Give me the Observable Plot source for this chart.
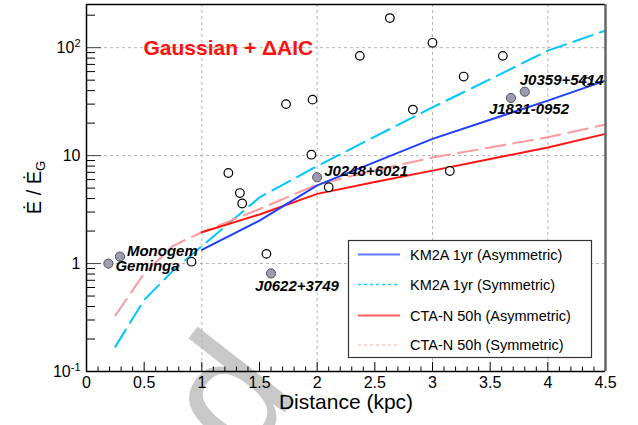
<!DOCTYPE html>
<html><head><meta charset="utf-8">
<script src="https://cdn.jsdelivr.net/npm/d3@7"></script>
<script src="https://cdn.jsdelivr.net/npm/@observablehq/plot@0.6"></script>
<style>
html,body{margin:0;padding:0;background:#fff;}
</style>
</head><body><div id="chart"></div>
<script>
// ---- data ----
const symX  = [0.25, 0.5, 0.75, 1, 1.5, 2, 2.5, 3, 3.5, 4, 4.5];
const asymX = [1, 1.5, 2, 2.5, 3, 3.5, 4, 4.5];
const km2aAsym = [1.34, 2.5, 5.3, 8.7, 14.3, 21.5, 32.3, 49.5];
const km2aSym  = [0.17, 0.46, 0.86, 1.45, 4.1, 8.0, 15, 28, 51, 94, 144];
const ctaAsym  = [1.95, 2.85, 4.42, 5.7, 7.26, 9.3, 11.9, 15.9];
const ctaSym   = [0.33, 0.81, 1.46, 1.95, 3.2, 5.4, 7.3, 9.6, 11.9, 14.8, 19.4];

const openX = [0.91, 1.23, 1.33, 1.35, 1.56, 1.73, 1.95, 1.96, 2.10, 2.37, 2.63, 2.83, 3.00, 3.15, 3.27, 3.61, 4.34];
const openY = [1.04, 6.9, 4.5, 3.6, 1.23, 30, 10.2, 33, 5.1, 84, 188, 26.7, 111, 7.2, 54, 84, 48];

const pulsarNames = ["Geminga", "Monogem", "J0622+3749", "J0248+6021", "J1831-0952", "J0359+5414"];
const pulsarX = [0.19, 0.29, 1.60, 2.00, 3.68, 3.80];
const pulsarY = [1.0, 1.16, 0.81, 6.3, 34.2, 39.1];

const xMajor = [0, 0.5, 1, 1.5, 2, 2.5, 3, 3.5, 4, 4.5];
const yMajor = [0.1, 1, 10, 100];
const yMajorLabels = ["10^-1", "1", "10", "10^2"];
const seriesNames = ["KM2A 1yr (Asymmetric)", "KM2A 1yr (Symmetric)", "CTA-N 50h (Asymmetric)", "CTA-N 50h (Symmetric)"];
const titleText = "Gaussian + \u0394AIC";
const xTitle = "Distance (kpc)";
const watermark = "Accepted";

// ---- derived tables ----
const xMinor = d3.range(0, 46).map(i => i / 10).filter(v => Math.abs(v * 2 - Math.round(v * 2)) > 1e-9);
const yMinor = [];
[0.1, 1, 10, 100].forEach(b => { for (let k = 2; k <= 9; k++) if (b * k <= 251) yMinor.push(b * k); });
const yTop = Math.pow(10, 2.4);

const tbl = (xs, ys) => xs.map((x, i) => ({x, y: ys[i]}));
const openPts = tbl(openX, openY);
const pulsars = pulsarNames.map((n, i) => ({name: n, x: pulsarX[i], y: pulsarY[i]}));

// ---- layout ----
const W = 638, H = 425, ML = 86, MR = 33, MT = 4, MB = 54;
const pxPerDecade = (H - MT - MB) / Math.log10(yTop / 0.1);
const pxPerX = (W - ML - MR) / 4.5;
const yAt = L => 0.1 * Math.pow(10, L / pxPerDecade);   // L px above the x axis
const xAt = L => L / pxPerX;                              // L px right of the y axis

const C = {blue: "#1f3fff", cyan: "#00c6ff", red: "#ff1414", pink: "#ff9a9a"};
const labelLayout = {
  "Geminga":    {dx: 7,   dy: 3},
  "Monogem":    {dx: 7,   dy: -5},
  "J0622+3749": {dx: -16, dy: 13},
  "J0248+6021": {dx: 7,   dy: -6},
  "J1831-0952": {dx: -22, dy: 11},
  "J0359+5414": {dx: -5,  dy: -12}
};
const FONT = "'Liberation Sans', Arial, Helvetica, sans-serif";

const labelMarks = pulsars.map(p => Plot.text([p], {
  x: "x", y: "y", text: "name",
  dx: labelLayout[p.name].dx, dy: labelLayout[p.name].dy,
  textAnchor: "start",
  fontSize: 15, fontWeight: "bold", fontStyle: "italic", fill: "black"
}));

const chart = Plot.plot({
  width: W, height: H,
  marginLeft: ML, marginRight: MR, marginTop: MT, marginBottom: MB,
  style: {fontFamily: FONT, background: "white"},
  x: {domain: [0, 4.5]},
  y: {type: "log", domain: [0.1, yTop]},
  marks: [
    Plot.text([watermark], {frameAnchor: "bottom-left", dx: 214, dy: 21, rotate: -52, textAnchor: "end", lineAnchor: "bottom", fontSize: 168, fill: "#c8c8c8"}),
    Plot.gridX({ticks: [1, 2, 3, 4], stroke: "#b4b4b4", strokeOpacity: 1, strokeDasharray: "3,3", strokeWidth: 1}),
    Plot.gridY({ticks: [1, 10, 100], stroke: "#b4b4b4", strokeOpacity: 1, strokeDasharray: "3,3", strokeWidth: 1}),
    Plot.line(tbl(symX, km2aSym), {x: "x", y: "y", stroke: C.cyan, strokeWidth: 2, strokeDasharray: "20,8"}),
    Plot.line(tbl(symX, ctaSym), {x: "x", y: "y", stroke: C.pink, strokeWidth: 2, strokeDasharray: "20,8"}),
    Plot.line(tbl(asymX, ctaAsym), {x: "x", y: "y", stroke: C.red, strokeWidth: 2}),
    Plot.line(tbl(asymX, km2aAsym), {x: "x", y: "y", stroke: C.blue, strokeWidth: 2}),
    Plot.dot(openPts, {x: "x", y: "y", r: 4.3, stroke: "black", fill: "white", strokeWidth: 1.2}),
    Plot.dot(pulsars, {x: "x", y: "y", r: 4.6, stroke: "#555", fill: "#9c9cb2", strokeWidth: 1}),
    ...labelMarks,
    // inward ticks
    Plot.ruleX(xMinor, {x: d => d, y1: () => 0.1, y2: () => yAt(4.5), stroke: "black", strokeWidth: 1}),
    Plot.ruleX(xMajor, {x: d => d, y1: () => 0.1, y2: () => yAt(9), stroke: "black", strokeWidth: 1}),
    Plot.ruleY(yMinor, {y: d => d, x1: () => 0, x2: () => xAt(9), stroke: "black", strokeWidth: 1}),
    Plot.ruleY(yMajor, {y: d => d, x1: () => 0, x2: () => xAt(15), stroke: "#444", strokeWidth: 1}),
    // tick labels
    Plot.axisX({ticks: xMajor, tickSize: 0, tickPadding: 5, tickFormat: d => String(d), label: null, fontSize: 16}),
    Plot.axisY({ticks: yMajor, tickSize: 0, tickPadding: 6, tickFormat: d => yMajorLabels[yMajor.indexOf(d)], label: null, fontSize: 16}),
    Plot.ruleX([0], {stroke: "black", strokeWidth: 1.5}),
    Plot.ruleY([0.1], {stroke: "black", strokeWidth: 1.5}),
    Plot.ruleY([yTop], {stroke: "black", strokeWidth: 1.5}),
    Plot.ruleX([4.5], {stroke: "#666", strokeWidth: 2.5}),
    Plot.text([titleText], {frameAnchor: "top-left", dx: 57, dy: 36, textAnchor: "start", fill: "#ff1010", fontSize: 21, fontWeight: "bold"}),
    Plot.text([xTitle], {frameAnchor: "bottom", dy: 37, fontSize: 21, fill: "black"})
  ]
});

document.getElementById("chart").appendChild(chart);
const svg = d3.select(chart);

// superscript tick labels
svg.selectAll('g[aria-label="y-axis tick label"] text').each(function() {
  const t = d3.select(this);
  const m = t.text().match(/^10\^(.+)$/);
  if (m) {
    t.text("");
    t.append("tspan").text("10");
    t.append("tspan").attr("font-size", 11).attr("dy", "-0.55em").text(m[1]);
  }
});

// y-axis title
const yl = svg.append("text")
  .attr("transform", "translate(41,187.5) rotate(-90)")
  .attr("text-anchor", "middle").attr("font-size", 20)
  .attr("fill", "black").attr("font-family", FONT);
yl.append("tspan").text("\u0116 / \u0116");
yl.append("tspan").attr("font-size", 13).attr("dy", 4).text("G");

// legend
const lg = svg.append("g").attr("font-family", FONT).attr("text-anchor", "start");
lg.append("rect").attr("x", 348.5).attr("y", 240.5).attr("width", 243).attr("height", 117)
  .attr("fill", "white").attr("stroke", "#333").attr("stroke-width", 1.2);
const legendStyles = [
  {stroke: "#5f78ff", dash: null, w: 2},
  {stroke: "#22ccff", dash: "3,3", w: 1.5},
  {stroke: "#ff5c5c", dash: null, w: 2},
  {stroke: "#ffaaaa", dash: "3,3", w: 1.2}
];
const legendRowY = [254.5, 284.5, 315.5, 345];
seriesNames.forEach((n, i) => {
  const st = legendStyles[i];
  lg.append("line").attr("x1", 358).attr("x2", 400).attr("y1", legendRowY[i]).attr("y2", legendRowY[i])
    .attr("stroke", st.stroke).attr("stroke-width", st.w).attr("stroke-dasharray", st.dash);
  lg.append("text").attr("x", 410).attr("y", legendRowY[i]).attr("dy", "0.36em")
    .attr("text-anchor", "start").attr("font-size", 14.5).attr("fill", "black").text(n);
});
</script>
</body></html>
